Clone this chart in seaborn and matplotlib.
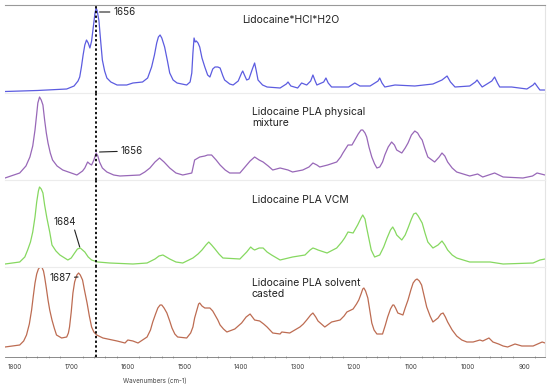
import numpy as np
import matplotlib
matplotlib.use("Agg")
import matplotlib.pyplot as plt
import seaborn as sns

# ---------------- Spectra ----------------
# (wavenumber cm-1, absorbance a.u.) pairs, one list per sample
blue_pts = [
    (1817, 1.5), (1760, 2.5), (1708, 4), (1695, 7), (1688, 12), (1685, 16), (1682, 26),
    (1679, 38), (1676, 48), (1673, 53), (1670, 50), (1667, 45), (1664, 52), (1661, 66),
    (1658, 80), (1656, 85), (1654, 82), (1651, 72), (1648, 52), (1645, 33), (1641, 22),
    (1637, 15), (1630, 11), (1619, 8), (1602, 8), (1591, 10), (1574, 11), (1565, 15),
    (1558, 26), (1553, 38), (1549, 50), (1546, 56), (1543, 58), (1540, 55), (1535, 46),
    (1530, 32), (1526, 20), (1520, 13), (1513, 10), (1496, 8), (1490, 11), (1487, 20),
    (1485, 40), (1483, 55), (1481, 51), (1479, 52), (1476, 50), (1473, 46), (1469, 35),
    (1464, 26), (1459, 18), (1455, 16), (1450, 24), (1446, 26), (1441, 26), (1437, 25),
    (1432, 17), (1429, 13), (1420, 9), (1414, 8), (1405, 12), (1399, 20), (1397, 22),
    (1394, 18), (1390, 13), (1386, 14), (1380, 24), (1376, 30), (1373, 22), (1370, 13),
    (1362, 8), (1354, 6), (1331, 5), (1320, 9), (1317, 11), (1312, 7), (1300, 5),
    (1293, 10), (1284, 8), (1277, 12), (1273, 18), (1269, 12), (1266, 8), (1254, 11),
    (1250, 15), (1246, 10), (1240, 6), (1210, 6), (1199, 10), (1190, 7), (1172, 7),
    (1158, 12), (1155, 15), (1151, 10), (1146, 6), (1128, 8), (1093, 7), (1061, 9),
    (1045, 13), (1036, 17), (1030, 11), (1022, 6), (996, 7), (986, 11), (983, 13),
    (978, 9), (974, 6), (957, 12), (952, 16), (947, 10), (943, 6), (922, 6), (895, 4),
    (884, 8), (881, 10), (876, 6), (872, 3), (863, 3),
]

purple_pts = [
    (1817, 2), (1791, 7), (1780, 14), (1773, 23), (1768, 34), (1764, 50), (1761, 66),
    (1759, 77), (1756, 83), (1753, 80), (1750, 75), (1747, 60), (1744, 47), (1741, 37),
    (1737, 27), (1733, 20), (1725, 14), (1715, 10), (1700, 7), (1690, 5), (1680, 9),
    (1676, 12), (1671, 18), (1667, 16), (1664, 15), (1660, 20), (1656, 27), (1653, 24),
    (1650, 18), (1645, 12), (1637, 8), (1625, 5), (1614, 4), (1579, 5), (1570, 8),
    (1561, 12), (1552, 18), (1544, 22), (1536, 18), (1526, 12), (1515, 7), (1503, 5),
    (1487, 7), (1482, 20), (1473, 23), (1464, 24), (1459, 25), (1452, 25), (1444, 20),
    (1437, 15), (1428, 10), (1420, 7), (1402, 7), (1393, 13), (1384, 19), (1376, 23),
    (1368, 20), (1361, 18), (1352, 14), (1344, 10), (1331, 12), (1317, 10), (1309, 8),
    (1291, 10), (1280, 13), (1273, 17), (1266, 15), (1261, 13), (1247, 15), (1231, 18),
    (1224, 23), (1220, 27), (1211, 35), (1204, 35), (1199, 40), (1193, 46), (1188, 50),
    (1185, 50), (1181, 47), (1178, 43), (1174, 33), (1169, 23), (1164, 16), (1160, 12),
    (1155, 13), (1150, 18), (1146, 25), (1140, 33), (1134, 38), (1129, 35), (1125, 30),
    (1116, 27), (1110, 32), (1105, 37), (1099, 45), (1093, 49), (1088, 47), (1084, 43),
    (1080, 40), (1075, 31), (1070, 23), (1058, 18), (1050, 23), (1045, 27), (1040, 24),
    (1035, 18), (1027, 12), (1019, 8), (996, 4), (982, 6), (973, 3), (952, 7),
    (937, 3), (902, 2), (885, 4), (877, 7), (863, 5),
]

green_pts = [
    (1817, 3), (1791, 5), (1782, 10), (1777, 17), (1772, 25), (1768, 35), (1764, 50),
    (1761, 65), (1758, 76), (1756, 80), (1753, 78), (1750, 74), (1747, 62), (1743, 49),
    (1738, 35), (1734, 22), (1727, 16), (1720, 12), (1706, 7), (1700, 9), (1694, 14),
    (1689, 18), (1684, 19), (1680, 17), (1676, 15), (1670, 10), (1664, 7), (1653, 5),
    (1632, 4), (1591, 3), (1566, 4), (1552, 8), (1545, 11), (1538, 12), (1532, 10),
    (1526, 8), (1515, 5), (1503, 4), (1485, 9), (1476, 13), (1469, 17), (1462, 22),
    (1457, 25), (1452, 22), (1446, 18), (1439, 13), (1432, 9), (1402, 8), (1390, 15),
    (1383, 20), (1379, 18), (1376, 17), (1368, 19), (1361, 19), (1354, 15), (1346, 12),
    (1331, 7), (1309, 10), (1287, 12), (1278, 17), (1273, 19), (1268, 18), (1264, 17),
    (1248, 14), (1231, 19), (1222, 25), (1217, 29), (1211, 35), (1202, 34), (1194, 42),
    (1188, 49), (1185, 52), (1181, 48), (1178, 39), (1174, 28), (1170, 17), (1164, 10),
    (1155, 12), (1148, 20), (1142, 29), (1136, 37), (1132, 40), (1128, 36), (1125, 32),
    (1116, 27), (1110, 32), (1105, 39), (1099, 48), (1095, 53), (1091, 54), (1087, 51),
    (1080, 44), (1075, 34), (1070, 25), (1061, 19), (1052, 22), (1045, 26), (1040, 22),
    (1035, 17), (1027, 12), (1019, 9), (996, 5), (960, 5), (937, 3), (884, 4),
    (876, 6), (872, 7), (863, 8),
]

red_pts = [
    (1817, 5), (1791, 7), (1784, 11), (1779, 17), (1774, 28), (1770, 42), (1767, 56),
    (1764, 69), (1761, 78), (1758, 83), (1755, 85), (1752, 85), (1749, 81), (1747, 75),
    (1744, 64), (1741, 52), (1738, 42), (1734, 32), (1730, 24), (1726, 17), (1717, 14),
    (1708, 15), (1705, 19), (1703, 25), (1700, 40), (1697, 59), (1694, 70), (1690, 77),
    (1687, 79), (1684, 77), (1680, 72), (1677, 63), (1672, 49), (1668, 36), (1664, 25),
    (1660, 20), (1655, 17), (1644, 14), (1619, 11), (1605, 9), (1600, 12), (1591, 11),
    (1582, 9), (1566, 15), (1560, 22), (1556, 30), (1551, 38), (1547, 44), (1543, 47),
    (1540, 47), (1536, 44), (1531, 39), (1526, 31), (1522, 24), (1517, 18), (1512, 15),
    (1496, 14), (1489, 19), (1485, 25), (1482, 34), (1478, 42), (1475, 48), (1473, 49),
    (1469, 46), (1464, 44), (1459, 44), (1455, 44), (1450, 41), (1446, 37), (1441, 32),
    (1437, 27), (1431, 23), (1425, 20), (1411, 23), (1399, 29), (1391, 35), (1384, 38),
    (1380, 35), (1376, 32), (1367, 31), (1360, 28), (1354, 25), (1344, 19), (1331, 18),
    (1328, 20), (1314, 19), (1296, 25), (1290, 28), (1284, 32), (1277, 37), (1273, 39),
    (1268, 35), (1264, 31), (1252, 25), (1240, 30), (1225, 32), (1218, 36), (1213, 40),
    (1202, 43), (1196, 48), (1192, 52), (1188, 58), (1185, 63), (1183, 64), (1180, 61),
    (1176, 54), (1172, 40), (1169, 29), (1165, 22), (1160, 18), (1150, 18), (1145, 27),
    (1141, 35), (1136, 43), (1132, 47), (1130, 47), (1127, 44), (1123, 39), (1114, 37),
    (1110, 44), (1105, 52), (1100, 62), (1096, 69), (1092, 72), (1089, 73), (1085, 71),
    (1081, 67), (1077, 57), (1072, 45), (1066, 36), (1061, 30), (1052, 34), (1047, 38),
    (1043, 39), (1039, 35), (1035, 30), (1027, 22), (1019, 16), (1010, 12), (1001, 10),
    (990, 10), (978, 12), (973, 11), (962, 14), (955, 10), (945, 8), (937, 6),
    (929, 5), (916, 8), (904, 6), (884, 6), (872, 9), (868, 10), (863, 9),
]

sample_names = ["Lidocaine*HCl*H2O", "Lidocaine PLA physical\nmixture",
                "Lidocaine PLA VCM", "Lidocaine PLA solvent\ncasted"]
line_colors = ["#5c5ce0", "#9868b8", "#86d860", "#bd6c52"]
marker_wn = 1656

# ---------------- Figure ----------------
sns.set_style("white")
plt.rcParams["font.family"] = ["Inter", "DejaVu Sans"]

fig = plt.figure(figsize=(5.5, 3.84), dpi=100)
W, H = 550, 384
# panel extents in pixels (top, bottom) and y-limits
panels = [(5, 93, (0, 88)), (93, 180, (0, 87)), (180, 267, (0, 87)), (267, 357, (-5, 85))]
label_y = [73, 62.5, 67, 63.5]

axes = []
for i, pts in enumerate([blue_pts, purple_pts, green_pts, red_pts]):
    top, bot, ylim = panels[i]
    wn = [p[0] for p in pts]
    ab = [p[1] for p in pts]
    ax = fig.add_axes([5 / W, 1 - bot / H, 540 / W, (bot - top) / H])
    sns.lineplot(x=wn, y=ab, ax=ax, color=line_colors[i], linewidth=0.9)
    ax.set_xlim(1817, 863)
    ax.set_ylim(*ylim)
    ax.set_yticks([])
    ax.set_ylabel("")
    ax.patch.set_alpha(0)
    ax.spines["left"].set_visible(False)
    ax.spines["right"].set_color("#e4e4e4")
    ax.spines["top"].set_color("#999999" if i == 0 else "#ececec")
    ax.spines["bottom"].set_visible(i == 3)
    ax.text(1381 if i else 1398, label_y[i], sample_names[i], fontsize=7.5, color="#222222",
            ha="left", va="center", linespacing=1.15)
    ax.axvline(marker_wn, color="black", lw=1.3, ls=(0, (1.3, 1.3)), zorder=5)
    if i < 3:
        ax.set_xticks([])
    axes.append(ax)

# annotations of key bands
line_kw = dict(arrowstyle="-", lw=0.8, color="#222222", shrinkA=0, shrinkB=0)
axes[0].annotate("1656", xy=(1650, 81), xytext=(1626, 81), fontsize=7, color="#222222",
                 va="center", ha="left", arrowprops=line_kw)
axes[1].annotate("1656", xy=(1650, 28), xytext=(1613, 29), fontsize=7, color="#222222",
                 va="center", ha="left", arrowprops=line_kw)
axes[2].text(1711, 45, "1684", fontsize=7, color="#222222", ha="center", va="center")
axes[2].plot([1694, 1685], [37, 20], color="#222222", lw=0.8)
axes[3].annotate("1687", xy=(1688, 75), xytext=(1700, 74), fontsize=7, color="#222222",
                 va="center", ha="right", arrowprops=line_kw)

# x axis on the bottom panel
ax = axes[3]
ax.spines["bottom"].set_color("#777777")
ax.spines["bottom"].set_linewidth(0.6)
ax.set_xticks(np.arange(1800, 850, -100))
ax.set_xticks(np.arange(1800, 860, -20), minor=True)
ax.tick_params(axis="x", which="major", length=2.5, width=0.6, color="#777777",
               labelsize=4.5, labelcolor="#444444", pad=4, direction="inout")
ax.tick_params(axis="x", which="minor", length=1.6, width=0.5, color="#888888",
               direction="inout", bottom=True)
ax.set_xlabel("Wavenumbers (cm-1)", fontsize=4.5, color="#444444")
ax.xaxis.set_label_coords(150 / 540, -0.23)

fig.savefig("out.png", dpi=100)
